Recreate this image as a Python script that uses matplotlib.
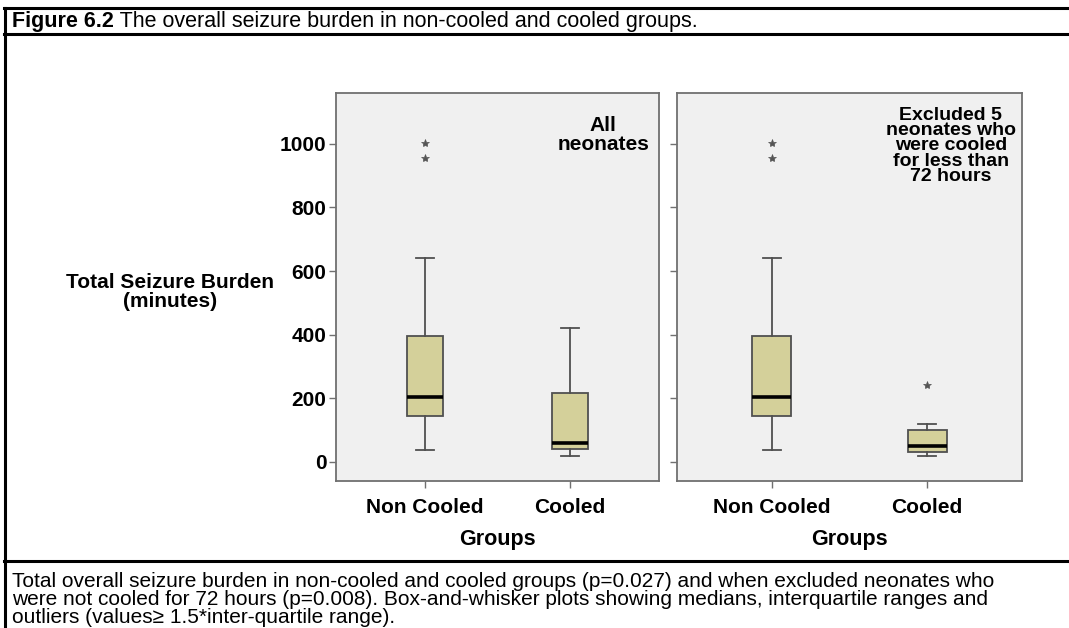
import matplotlib
matplotlib.use("Agg")
import matplotlib.pyplot as plt
from matplotlib.lines import Line2D

plt.rcParams['font.family'] = ['Liberation Sans', 'DejaVu Sans']

# ---- data ----
groups = ["Non Cooled", "Cooled"]
# panel 1: all neonates  (whislo, q1, median, q3, whishi)
all_noncooled = [37, 144, 203, 397, 640]
all_cooled = [19, 42, 61, 218, 420]
all_noncooled_out = [1002, 955]
all_cooled_out = []
# panel 2: excluded 5 neonates cooled < 72 h
exc_noncooled = [37, 144, 203, 397, 640]
exc_cooled = [18, 30, 49, 100, 120]
exc_noncooled_out = [1002, 955]
exc_cooled_out = [243]
yticks = [0, 200, 400, 600, 800, 1000]

title_bold = "Figure 6.2"
title_rest = " The overall seizure burden in non-cooled and cooled groups."
caption = ["Total overall seizure burden in non-cooled and cooled groups (p=0.027) and when excluded neonates who",
           "were not cooled for 72 hours (p=0.008). Box-and-whisker plots showing medians, interquartile ranges and",
           "outliers (values\u2265 1.5*inter-quartile range)."]
panel_notes = ["All\nneonates", "Excluded 5\nneonates who\nwere cooled\nfor less than\n72 hours"]

W, H = 1069, 628
fig = plt.figure(figsize=(W / 100, H / 100), dpi=100)
fig.patch.set_facecolor("white")

def fx(px):
    return px / W

def fy(py):
    return 1 - py / H

box_face = "#d4d09a"
edge = "#505050"
panel_bg = "#f0f0f0"

def make_stats(vals, outs, label):
    lo, q1, med, q3, hi = vals
    return dict(whislo=lo, q1=q1, med=med, q3=q3, whishi=hi, fliers=outs, label=label)

panels = [
    (336, 659, [make_stats(all_noncooled, all_noncooled_out, groups[0]),
                make_stats(all_cooled, all_cooled_out, groups[1])], panel_notes[0], True),
    (677, 1022, [make_stats(exc_noncooled, exc_noncooled_out, groups[0]),
                 make_stats(exc_cooled, exc_cooled_out, groups[1])], panel_notes[1], False),
]
top_px, bot_px = 93, 481
for (l, r, stats, note, show_labels) in panels:
    ax = fig.add_axes([fx(l), fy(bot_px), fx(r - l), (bot_px - top_px) / H])
    ax.set_facecolor(panel_bg)
    ax.bxp(stats, positions=[1, 2], widths=0.25, patch_artist=True,
           boxprops=dict(facecolor=box_face, edgecolor=edge, linewidth=1.3),
           medianprops=dict(color="black", linewidth=2.6),
           whiskerprops=dict(color=edge, linewidth=1.3),
           capprops=dict(color=edge, linewidth=1.3),
           capwidths=0.12,
           flierprops=dict(marker="*", markersize=6, markerfacecolor="#555555",
                           markeredgecolor="#555555", markeredgewidth=0.5, linestyle="none"))
    ax.set_xlim(0.389, 2.611)
    ax.set_ylim(-60, 1160)
    ax.set_yticks(yticks)
    ax.set_xticks([1, 2])
    ax.set_xticklabels(groups, fontsize=15, fontweight="bold")
    if show_labels:
        ax.set_yticklabels([str(t) for t in yticks], fontsize=15, fontweight="bold")
    else:
        ax.set_yticklabels([])
    ax.tick_params(axis="both", length=5, width=1, color="#707070", pad=2)
    ax.tick_params(axis="x", pad=7)
    for s in ax.spines.values():
        s.set_color("#707070")
        s.set_linewidth(1.3)
    ax.set_xlabel("Groups", fontsize=15.5, fontweight="bold", labelpad=9)
    if show_labels:
        ax.text(0.827, 0.94, note, transform=ax.transAxes, ha="center", va="top",
                fontsize=15, fontweight="bold", linespacing=0.95)
    else:
        ax.text(0.794, 0.965, note, transform=ax.transAxes, ha="center", va="top",
                fontsize=14, fontweight="bold", linespacing=0.88)

fig.text(fx(170), fy(292), "Total Seizure Burden\n(minutes)", ha="center", va="center",
         fontsize=15, fontweight="bold", linespacing=0.95)

# frame lines of the figure table
lw = 2.2
for y in [8, 34, 561]:
    fig.add_artist(Line2D([fx(4), 1.0], [fy(y), fy(y)], transform=fig.transFigure,
                          color="black", linewidth=lw))
fig.add_artist(Line2D([fx(5), fx(5)], [fy(8), 0], transform=fig.transFigure,
                      color="black", linewidth=lw))

# title
fig.canvas.draw()
t1 = fig.text(fx(12), fy(27), title_bold, fontsize=15.5, fontweight="bold", ha="left", va="baseline")
fig.canvas.draw()
bb = t1.get_window_extent()
fig.text(bb.x1 / W, fy(27), title_rest, fontsize=15.5, ha="left", va="baseline")

for i, line in enumerate(caption):
    fig.text(fx(12), fy(587 + 18 * i), line, fontsize=15, ha="left", va="baseline")

fig.savefig("out.png", dpi=100)
